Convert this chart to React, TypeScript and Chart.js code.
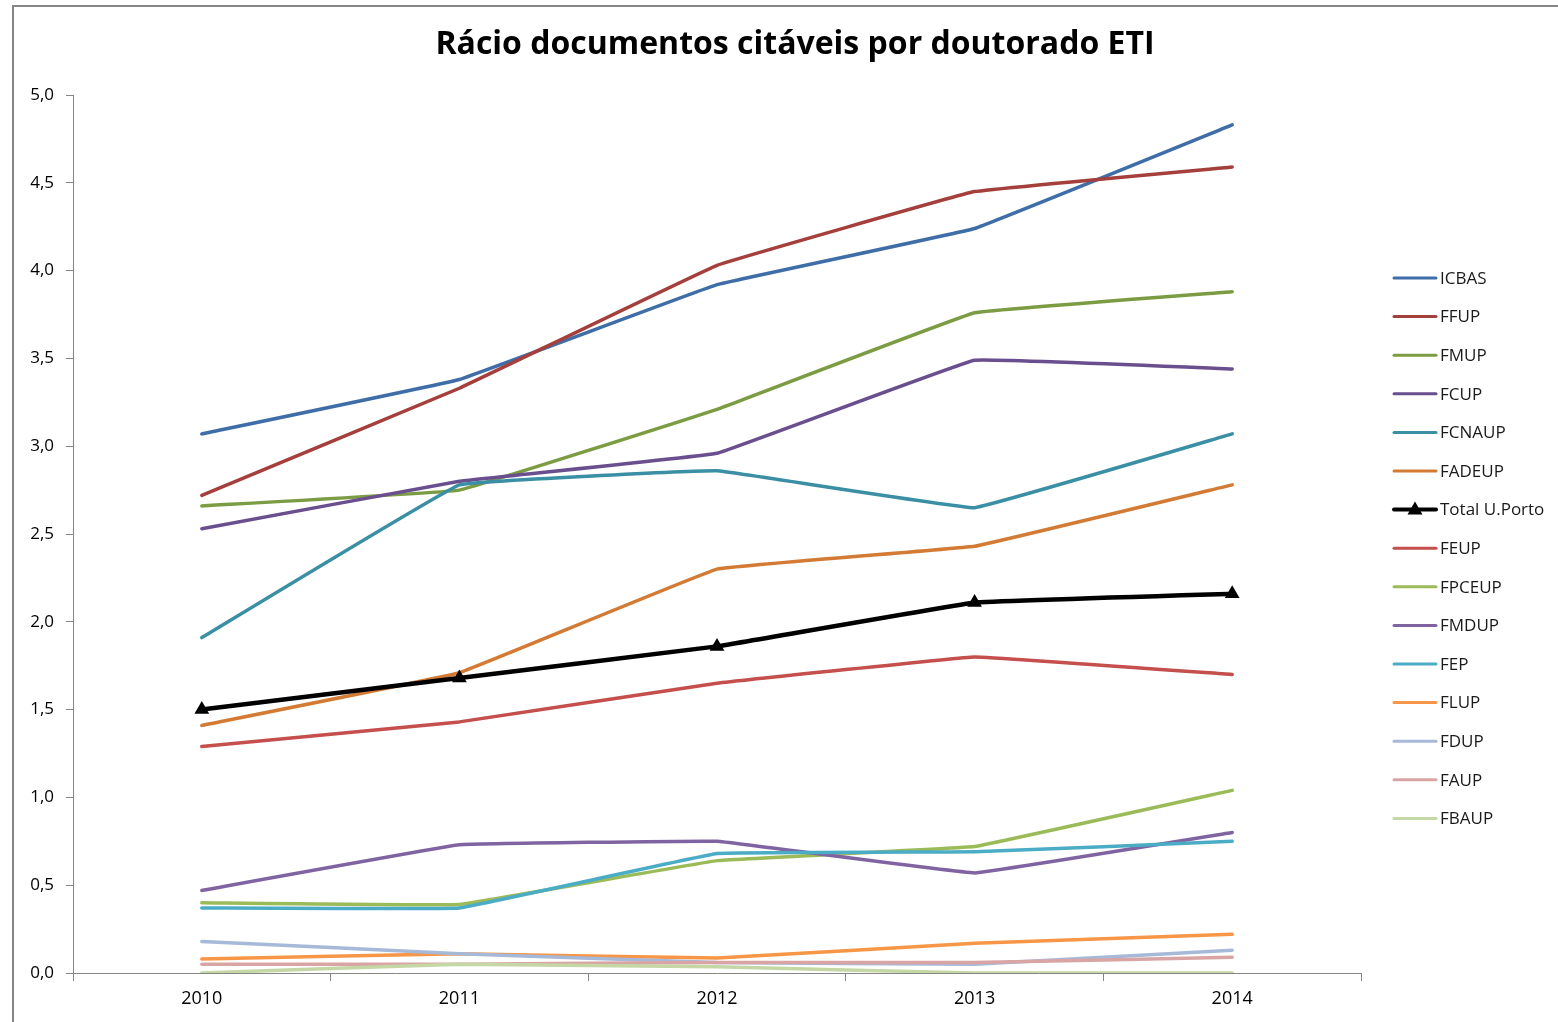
import React, { useEffect, useRef } from "react";
import { Chart, registerables } from "chart.js";

Chart.register(...registerables);

const years = ["2010", "2011", "2012", "2013", "2014"];
const titleText = "Rácio documentos citáveis por doutorado ETI";

const seriesNames = [
  "ICBAS", "FFUP", "FMUP", "FCUP", "FCNAUP", "FADEUP", "Total U.Porto",
  "FEUP", "FPCEUP", "FMDUP", "FEP", "FLUP", "FDUP", "FAUP", "FBAUP",
];

const icbas = [3.07, 3.38, 3.92, 4.24, 4.83];
const ffup = [2.72, 3.33, 4.03, 4.45, 4.59];
const fmup = [2.66, 2.75, 3.21, 3.76, 3.88];
const fcup = [2.53, 2.80, 2.96, 3.49, 3.44];
const fcnaup = [1.91, 2.78, 2.86, 2.65, 3.07];
const fadeup = [1.41, 1.71, 2.30, 2.43, 2.78];
const totalUPorto = [1.50, 1.68, 1.86, 2.11, 2.16];
const feup = [1.29, 1.43, 1.65, 1.80, 1.70];
const fpceup = [0.40, 0.39, 0.64, 0.72, 1.04];
const fmdup = [0.47, 0.73, 0.75, 0.57, 0.80];
const fep = [0.37, 0.37, 0.68, 0.69, 0.75];
const flup = [0.08, 0.11, 0.085, 0.17, 0.22];
const fdup = [0.18, 0.11, 0.06, 0.05, 0.13];
const faup = [0.05, 0.05, 0.06, 0.06, 0.09];
const fbaup = [0.0, 0.05, 0.035, 0.0, 0.0];

const seriesValues = [
  icbas, ffup, fmup, fcup, fcnaup, fadeup, totalUPorto,
  feup, fpceup, fmdup, fep, flup, fdup, faup, fbaup,
];

const seriesColors = [
  "#3E6DA8", "#A53F3C", "#7B9C42", "#6A4F8E", "#3A8FA4", "#D37B34", "#000000",
  "#C44F4C", "#9BBB59", "#8064A2", "#4BACC6", "#F79646", "#A7B9D9", "#D9A5A4", "#C4D7A5",
];

const FONT = "'Open Sans', 'Liberation Sans', sans-serif";

export default function App() {
  const ref = useRef<HTMLCanvasElement | null>(null);

  useEffect(() => {
    document.body.style.margin = "0";
    const canvas = ref.current;
    if (!canvas) return;

    const framePlugin = {
      id: "frame",
      beforeDraw(chart: any) {
        const ctx = chart.ctx;
        ctx.save();
        ctx.fillStyle = "#ffffff";
        ctx.fillRect(0, 0, chart.width, chart.height);
        ctx.strokeStyle = "#868686";
        ctx.lineWidth = 2;
        ctx.strokeRect(13, 6, chart.width + 50, chart.height + 50);
        ctx.restore();
      },
      afterDraw(chart: any) {
        const ctx = chart.ctx;
        ctx.save();
        ctx.fillStyle = "#000000";
        ctx.font = `bold 32px ${FONT}`;
        ctx.textAlign = "center";
        ctx.textBaseline = "middle";
        ctx.fillText(titleText, 795, 45);

        // legend
        const x0 = 1394;
        const x1 = 1436;
        const y0 = 278;
        const step = 38.6;
        ctx.font = `17px ${FONT}`;
        ctx.textAlign = "left";
        ctx.textBaseline = "middle";
        seriesNames.forEach((name, i) => {
          const y = y0 + i * step;
          const isTotal = name === "Total U.Porto";
          ctx.strokeStyle = seriesColors[i];
          ctx.lineWidth = isTotal ? 4 : 3;
          ctx.lineCap = "round";
          ctx.beginPath();
          ctx.moveTo(x0, y);
          ctx.lineTo(x1, y);
          ctx.stroke();
          if (isTotal) {
            const cx = (x0 + x1) / 2;
            ctx.fillStyle = "#000";
            ctx.beginPath();
            ctx.moveTo(cx, y - 8);
            ctx.lineTo(cx + 7.5, y + 5);
            ctx.lineTo(cx - 7.5, y + 5);
            ctx.closePath();
            ctx.fill();
          }
          ctx.fillStyle = "#1a1a1a";
          ctx.fillText(name, 1440, y + 1);
        });
        ctx.restore();
      },
    };

    const datasets = seriesNames.map((name, i) => {
      const isTotal = name === "Total U.Porto";
      return {
        label: name,
        data: seriesValues[i],
        borderColor: seriesColors[i],
        backgroundColor: seriesColors[i],
        borderWidth: isTotal ? 4.5 : 3.5,
        pointStyle: "triangle",
        pointRadius: isTotal ? 8.5 : 0,
        pointHoverRadius: isTotal ? 8.5 : 0,
        pointBorderWidth: 0,
        tension: 0.05,
        fill: false,
        order: -i,
        borderCapStyle: "round",
        borderJoinStyle: "round",
      };
    });

    const chart = new Chart(canvas, {
      type: "line",
      data: { labels: years, datasets: datasets as any },
      plugins: [framePlugin],
      options: {
        responsive: false,
        animation: false,
        devicePixelRatio: 1,
        layout: { padding: { top: 95, right: 197, left: 0, bottom: 0 } },
        plugins: {
          legend: { display: false },
          title: { display: false },
          tooltip: { enabled: false },
        },
        scales: {
          x: {
            type: "category",
            offset: true,
            afterFit(scale: any) {
              scale.height = 49;
            },
            grid: {
              offset: true,
              drawOnChartArea: false,
              drawTicks: true,
              tickLength: 8,
              color: "#868686",
            },
            border: { display: true, color: "#868686", width: 1 },
            ticks: {
              color: "#000000",
              font: { family: FONT, size: 18 },
              padding: 7,
              maxRotation: 0,
            },
          },
          y: {
            min: 0,
            max: 5,
            afterFit(scale: any) {
              scale.width = 73;
            },
            grid: {
              drawOnChartArea: false,
              drawTicks: true,
              tickLength: 7,
              color: "#868686",
            },
            border: { display: true, color: "#868686", width: 1 },
            ticks: {
              stepSize: 0.5,
              color: "#000000",
              font: { family: FONT, size: 17 },
              padding: 12,
              callback: (v: any) => Number(v).toFixed(1).replace(".", ","),
            },
          },
        },
      },
    });

    return () => chart.destroy();
  }, []);

  return (
    <div style={{ width: 1558, height: 1022 }}>
      <canvas ref={ref} width={1558} height={1022} style={{ display: "block", width: 1558, height: 1022 }} />
    </div>
  );
}
